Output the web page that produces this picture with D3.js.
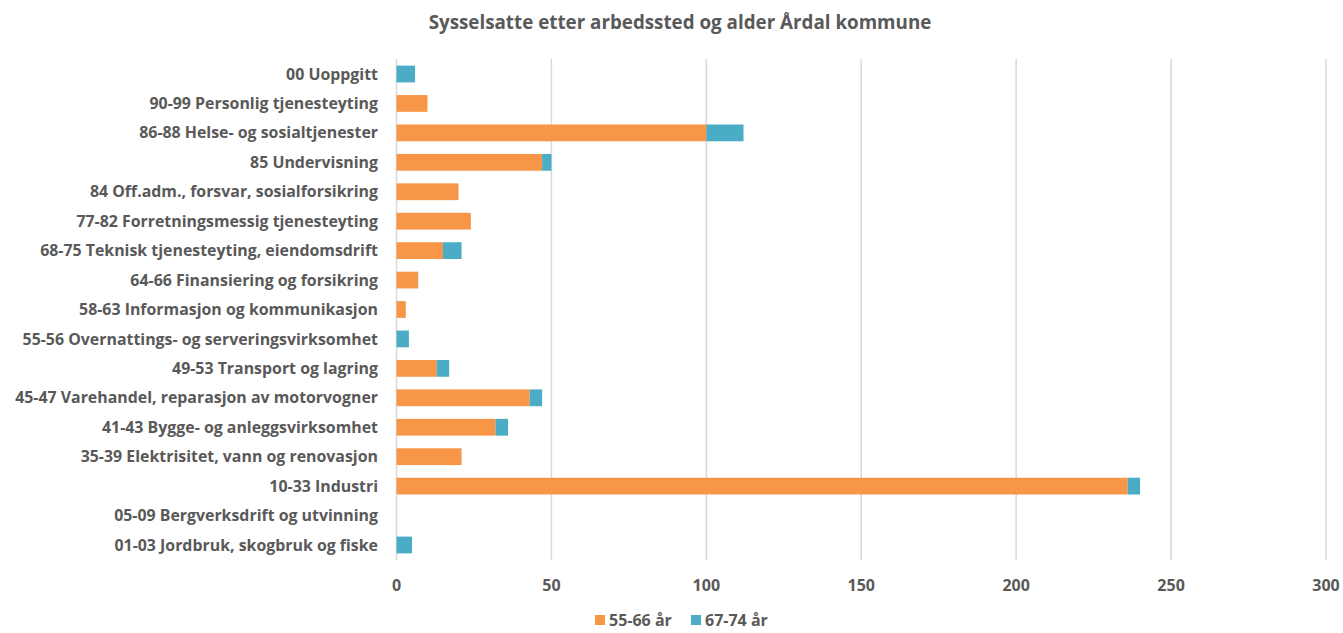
<!DOCTYPE html>
<html><head><meta charset="utf-8">
<script src="https://cdn.jsdelivr.net/npm/d3@7"></script>
<style>body{margin:0;background:#fff}svg{display:block}text{font-family:"Open Sans",sans-serif;font-weight:bold;fill:#595959}</style>
</head><body><svg id="c" width="1343" height="633"></svg>
<script>
const categories = ["00 Uoppgitt","90-99 Personlig tjenesteyting","86-88 Helse- og sosialtjenester","85 Undervisning","84 Off.adm., forsvar, sosialforsikring","77-82 Forretningsmessig tjenesteyting","68-75 Teknisk tjenesteyting, eiendomsdrift","64-66 Finansiering og forsikring","58-63 Informasjon og kommunikasjon","55-56 Overnattings- og serveringsvirksomhet","49-53 Transport og lagring","45-47 Varehandel, reparasjon av motorvogner","41-43 Bygge- og anleggsvirksomhet","35-39 Elektrisitet, vann og renovasjon","10-33 Industri","05-09 Bergverksdrift og utvinning","01-03 Jordbruk, skogbruk og fiske"];
const age5566 = [0,10,100,47,20,24,15,7,3,0,13,43,32,21,236,0,0];
const age6774 = [6,0,12,3,0,0,6,0,0,4,4,4,4,0,4,0,5];
const seriesNames = ["55-66 år","67-74 år"];
const colors = ["#F79646","#4BACC6"];
const xTicks = [0,50,100,150,200,250,300];
const title = "Sysselsatte etter arbedssted og alder Årdal kommune";

const svg = d3.select("#c");
const x = d3.scaleLinear().domain([0,300]).range([396.5,1326]);
const y = d3.scaleBand().domain(categories).range([59.3,559.7]).paddingInner(0.43).paddingOuter(0.215);

svg.append("text").attr("x",680).attr("y",29).attr("text-anchor","middle").style("font-size","18.8px").text(title);

svg.append("g").selectAll("line").data(xTicks).join("line")
  .attr("x1",d=>x(d)).attr("x2",d=>x(d)).attr("y1",59).attr("y2",560)
  .attr("stroke","#d9d9d9").attr("stroke-width",1.5);

const rows = categories.map((c,i)=>({c, a:age5566[i], b:age6774[i]}));
const g = svg.append("g");
rows.forEach(r=>{
  if(r.a>0) g.append("rect").attr("x",x(0)).attr("y",y(r.c)).attr("width",x(r.a)-x(0)).attr("height",y.bandwidth()).attr("fill",colors[0]);
  if(r.b>0) g.append("rect").attr("x",x(r.a)).attr("y",y(r.c)).attr("width",x(r.a+r.b)-x(r.a)).attr("height",y.bandwidth()).attr("fill",colors[1]);
});

svg.append("g").selectAll("text").data(categories).join("text")
  .attr("x",378).attr("y",d=>y(d)+y.bandwidth()/2).attr("dy","0.35em").attr("text-anchor","end")
  .style("font-size","15.9px").text(d=>d);

svg.append("g").selectAll("text").data(xTicks).join("text")
  .attr("x",d=>x(d)).attr("y",585).attr("dy","0.35em").attr("text-anchor","middle")
  .style("font-size","16px").text(d=>d);

const leg = svg.append("g");
const legX = [595,691];
seriesNames.forEach((s,i)=>{
  leg.append("rect").attr("x",legX[i]).attr("y",615).attr("width",10).attr("height",10).attr("fill",colors[i]);
  leg.append("text").attr("x",legX[i]+14).attr("y",620).attr("dy","0.35em").style("font-size","16px").text(s);
});
</script></body></html>
